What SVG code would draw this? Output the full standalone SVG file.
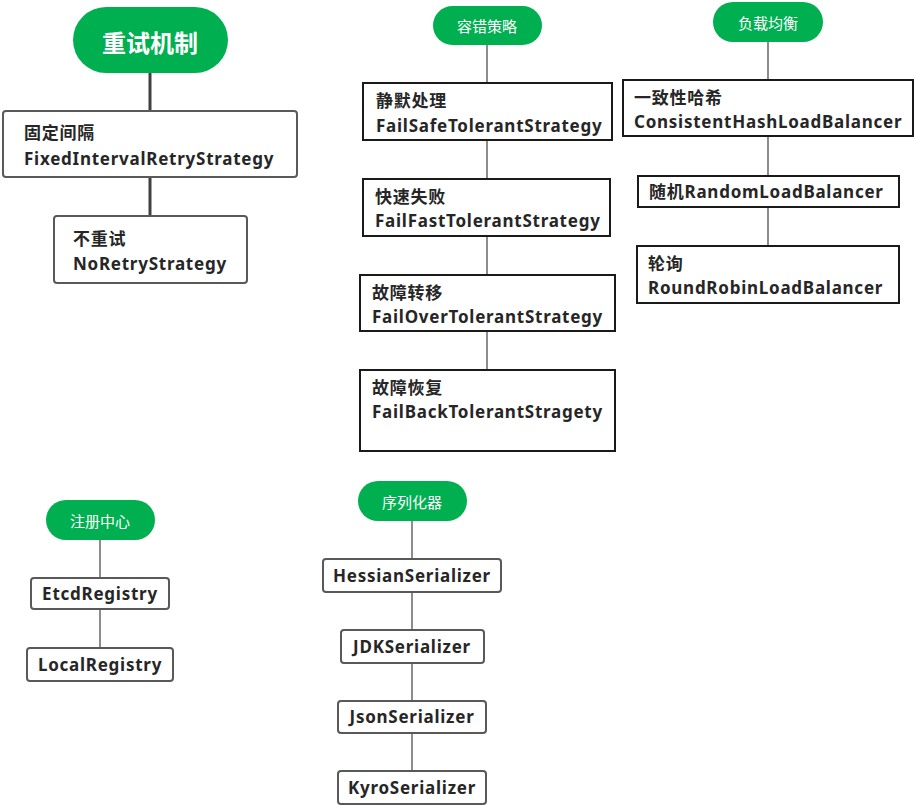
<svg xmlns="http://www.w3.org/2000/svg" width="915" height="805" viewBox="0 0 915 805">
<style>
.pill{fill:#00B050;}
.pt{fill:#fff;font-family:"Noto Sans CJK SC","Noto Sans",sans-serif;font-size:15px;text-anchor:middle;dominant-baseline:central;}
.pt-big{font-size:24px;font-weight:bold;}
.box{fill:#fff;stroke:#595959;stroke-width:2;}
.sq{fill:#fff;stroke:#1a1a1a;stroke-width:2;}
.t{fill:#262626;font-family:"Noto Sans","Noto Sans CJK SC",sans-serif;font-size:17px;font-weight:bold;letter-spacing:0.75px;}
.c{text-anchor:middle;}
.ln{stroke:#404040;stroke-width:1.2;fill:none;}
.thick{stroke:#404040;stroke-width:3;}
</style>
<g id="connectors">
<line class="ln thick" x1="150" y1="73" x2="150" y2="112"/>
<line class="ln thick" x1="150" y1="177" x2="150" y2="216"/>
<line class="ln" x1="487" y1="45" x2="487" y2="83"/>
<line class="ln" x1="487" y1="140" x2="487" y2="179"/>
<line class="ln" x1="487" y1="236" x2="487" y2="275"/>
<line class="ln" x1="487" y1="331" x2="487" y2="370"/>
<line class="ln" x1="768" y1="42" x2="768" y2="80"/>
<line class="ln" x1="768" y1="136" x2="768" y2="176"/>
<line class="ln" x1="768" y1="207" x2="768" y2="246"/>
<line class="ln" x1="100" y1="540" x2="100" y2="578"/>
<line class="ln" x1="100" y1="609" x2="100" y2="648"/>
<line class="ln" x1="412" y1="521" x2="412" y2="559"/>
<line class="ln" x1="412" y1="592" x2="412" y2="630"/>
<line class="ln" x1="412" y1="663" x2="412" y2="701"/>
<line class="ln" x1="412" y1="733" x2="412" y2="771"/>
</g>
<g id="retry">
<rect class="pill" x="73" y="7" width="155" height="66" rx="33"/>
<text class="pt pt-big" x="150" y="41">重试机制</text>
</g>
<g id="fixed">
<rect class="box" x="3" y="111" width="294" height="66" rx="3"/>
<text class="t" x="24" y="139">固定间隔</text>
<text class="t" x="24" y="165">FixedIntervalRetryStrategy</text>
</g>
<g id="noretry">
<rect class="box" x="54" y="216" width="193" height="67" rx="3"/>
<text class="t" x="73" y="245">不重试</text>
<text class="t" x="73" y="270">NoRetryStrategy</text>
</g>
<g id="tolerant">
<rect class="pill" x="433" y="6" width="109" height="39" rx="19.5"/>
<text class="pt" x="487" y="25">容错策略</text>
</g>
<g id="failsafe">
<rect class="sq" x="363" y="83" width="249" height="57"/>
<text class="t" x="376" y="107">静默处理</text>
<text class="t" x="376" y="132">FailSafeTolerantStrategy</text>
</g>
<g id="failfast">
<rect class="sq" x="363" y="179" width="247" height="57"/>
<text class="t" x="375" y="203">快速失败</text>
<text class="t" x="375" y="227">FailFastTolerantStrategy</text>
</g>
<g id="failover">
<rect class="sq" x="360" y="275" width="255" height="56"/>
<text class="t" x="372" y="299">故障转移</text>
<text class="t" x="372" y="323">FailOverTolerantStrategy</text>
</g>
<g id="failback">
<rect class="sq" x="360" y="370" width="255" height="81"/>
<text class="t" x="372" y="394">故障恢复</text>
<text class="t" x="372" y="418">FailBackTolerantStragety</text>
</g>
<g id="loadbalance">
<rect class="pill" x="713" y="2" width="110" height="40" rx="20"/>
<text class="pt" x="768" y="22">负载均衡</text>
</g>
<g id="consistent">
<rect class="sq" x="623" y="80" width="290" height="56"/>
<text class="t" x="634" y="104">一致性哈希</text>
<text class="t" x="634" y="128">ConsistentHashLoadBalancer</text>
</g>
<g id="random">
<rect class="sq" x="638" y="176" width="261" height="31"/>
<text class="t" x="649" y="198">随机RandomLoadBalancer</text>
</g>
<g id="roundrobin">
<rect class="sq" x="637" y="246" width="262" height="57"/>
<text class="t" x="648" y="270">轮询</text>
<text class="t" x="648" y="294">RoundRobinLoadBalancer</text>
</g>
<g id="registry">
<rect class="pill" x="46" y="500" width="109" height="40" rx="20"/>
<text class="pt" x="100" y="520">注册中心</text>
</g>
<g id="etcd">
<rect class="box" x="31" y="578" width="138" height="31" rx="3"/>
<text class="t c" x="100" y="600">EtcdRegistry</text>
</g>
<g id="local">
<rect class="box" x="27" y="648" width="146" height="33" rx="3"/>
<text class="t c" x="100" y="671">LocalRegistry</text>
</g>
<g id="serializer">
<rect class="pill" x="358" y="481" width="109" height="40" rx="20"/>
<text class="pt" x="412" y="501">序列化器</text>
</g>
<g id="hessian">
<rect class="box" x="323" y="559" width="178" height="33" rx="3"/>
<text class="t c" x="412" y="582">HessianSerializer</text>
</g>
<g id="jdk">
<rect class="box" x="341" y="630" width="143" height="33" rx="3"/>
<text class="t c" x="412" y="653">JDKSerializer</text>
</g>
<g id="json">
<rect class="box" x="338" y="701" width="148" height="32" rx="3"/>
<text class="t c" x="412" y="723">JsonSerializer</text>
</g>
<g id="kyro">
<rect class="box" x="338" y="771" width="148" height="33" rx="3"/>
<text class="t c" x="412" y="794">KyroSerializer</text>
</g>
</svg>
